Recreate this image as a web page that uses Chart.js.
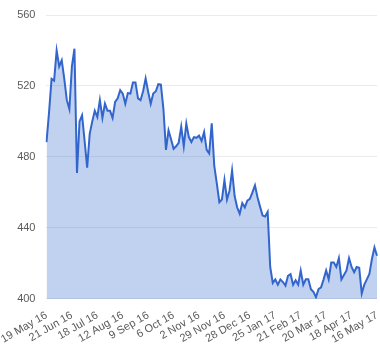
<!DOCTYPE html>
<html>
<head>
<meta charset="utf-8">
<script src="https://cdn.jsdelivr.net/npm/chart.js@4/dist/chart.umd.min.js"></script>
<style>
  html, body { margin: 0; padding: 0; background: #ffffff; }
  #wrap { width: 380px; height: 360px; position: relative; }
</style>
</head>
<body>
<div id="wrap"><canvas id="c"></canvas></div>
<script>
const tickLabels = ['19 May 16','21 Jun 16','18 Jul 16','12 Aug 16','9 Sep 16','6 Oct 16','2 Nov 16',
  '29 Nov 16','28 Dec 16','25 Jan 17','21 Feb 17','20 Mar 17','18 Apr 17','16 May 17'];
const labelStep = 10;
const prices = [
  488.4, 505, 524, 523, 540, 531, 534.5, 524, 512, 507,
  531, 541, 471, 500, 503.5, 489, 474, 493, 500, 506,
  502.5, 512, 502, 510, 506, 506, 502, 511, 513, 517.6,
  515.7, 510, 516, 515.7, 522, 522, 513, 512, 517, 524.2,
  516.7, 510, 515.7, 517, 521, 520.8, 507, 484, 495, 490,
  484.6, 486, 488, 497, 486, 498.8, 491.2, 488.4, 491.2, 490.8,
  492, 489, 494, 484, 482, 499, 475, 465, 454.5, 456,
  467, 456, 461, 472.4, 458, 451.6, 448, 454, 451.6, 455.4,
  456.4, 460, 464, 457.3, 452, 447, 446.4, 449, 418, 409,
  411, 408, 411, 409.5, 407.5, 413, 414, 408, 410.5, 408,
  415.9, 408, 411, 411, 405.5, 404, 401, 405.5, 406.5, 411,
  416, 411, 420.5, 420.5, 418, 423, 411, 413.5, 416, 423,
  418, 415, 418, 417.5, 403, 408, 411, 414, 422.5, 429,
  424.3
];
const yTicks = { min: 400, max: 560, step: 40 };

const font = { family: "'Liberation Sans', Arial, sans-serif", size: 11 };

new Chart(document.getElementById('c'), {
  type: 'line',
  data: {
    labels: prices.map((_, i) => i),
    datasets: [{
      data: prices,
      borderColor: '#3366cc',
      borderWidth: 2,
      backgroundColor: 'rgba(51,102,204,0.3)',
      fill: 'start',
      pointRadius: 0,
      tension: 0
    }]
  },
  options: {
    responsive: true,
    maintainAspectRatio: false,
    animation: false,
    layout: { padding: { left: 0, right: 0, top: 15, bottom: 12 } },
    plugins: { legend: { display: false }, tooltip: { enabled: false } },
    scales: {
      x: {
        type: 'category',
        offset: false,
        grid: { display: false },
        border: { display: false },
        afterFit: (scale) => { scale.paddingRight = 3; },
        ticks: {
          autoSkip: false,
          minRotation: 30,
          maxRotation: 30,
          padding: 2,
          color: '#5a5a5a',
          font: font,
          callback: (v, i) => (i % labelStep === 0 ? tickLabels[i / labelStep] : null)
        }
      },
      y: {
        min: yTicks.min,
        max: yTicks.max,
        afterFit: (scale) => { scale.paddingTop = 0; },
        grid: { color: '#ebebeb', drawTicks: false, lineWidth: 1 },
        border: { display: false },
        ticks: { stepSize: yTicks.step, padding: 11, color: '#5a5a5a', font: font }
      }
    }
  }
});
</script>
</body>
</html>
